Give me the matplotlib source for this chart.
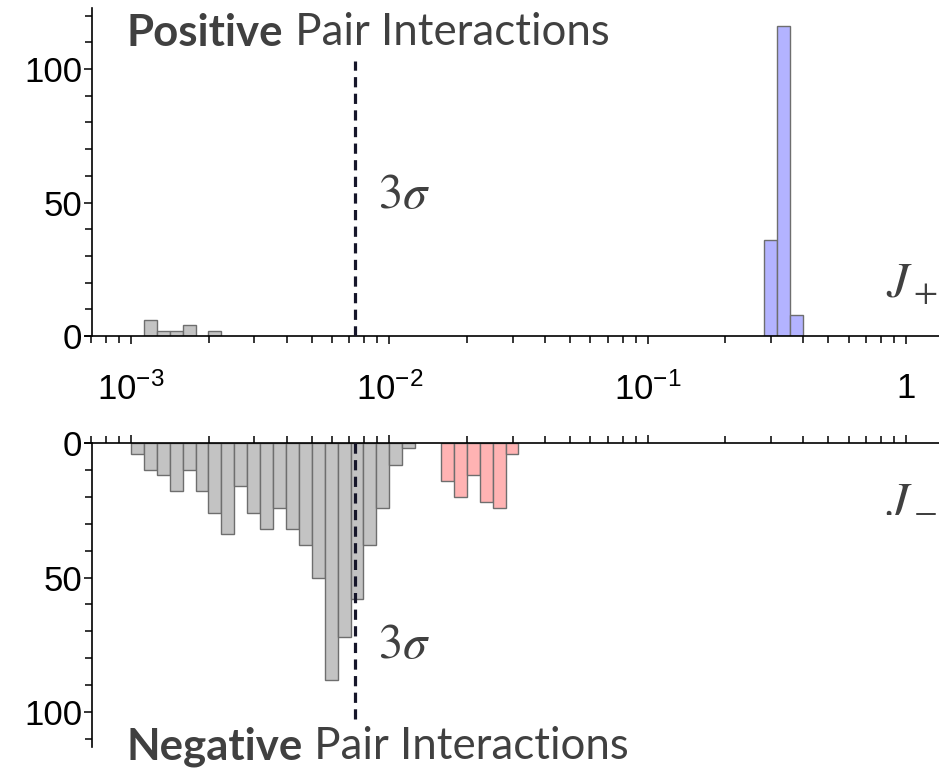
import matplotlib
matplotlib.use("Agg")
import matplotlib.pyplot as plt
import matplotlib.ticker as mticker
import numpy as np

# --- data: histogram bins as log10 of the left edge, 0.05 decade wide ---
BIN_W = 0.05
pos_gray_logx = [-2.95, -2.90, -2.85, -2.80, -2.70]
pos_gray_counts = [6, 2, 2, 4, 2]
pos_blue_logx = [-0.55, -0.50, -0.45]
pos_blue_counts = [36, 116, 8]

neg_gray_logx = [-3.00, -2.95, -2.90, -2.85, -2.80, -2.75, -2.70, -2.65,
                 -2.60, -2.55, -2.50, -2.45, -2.40, -2.35, -2.30, -2.25,
                 -2.20, -2.15, -2.10, -2.05, -2.00, -1.95]
neg_gray_counts = [4, 10, 12, 18, 10, 18, 26, 34, 16, 26, 32, 24, 32, 38,
                   50, 88, 72, 58, 38, 24, 8, 2]
neg_red_logx = [-1.80, -1.75, -1.70, -1.65, -1.60, -1.55]
neg_red_counts = [14, 20, 12, 22, 24, 4]

sigma3_x = 7.36e-3
sigma3_top = 103

xtick_vals = [1e-3, 1e-2, 1e-1, 1]
xtick_labels = [r"$10^{-3}$", r"$10^{-2}$", r"$10^{-1}$", "1"]
ytick_vals = [0, 50, 100]

GRAY = "#c3c3c3"
BLUE = "#b3b3ff"
RED = "#ffb3b3"
EDGE = "#6e6e6e"
TEXT = "#404040"
DASH = "#16162a"

plt.rcParams["font.family"] = ["Liberation Sans", "DejaVu Sans"]
plt.rcParams["mathtext.fontset"] = "custom"
plt.rcParams["mathtext.rm"] = "Liberation Sans"
plt.rcParams["mathtext.it"] = "Liberation Sans:italic"

W, H = 939, 771
fig = plt.figure(figsize=(W / 100, H / 100), dpi=100)

x_lo, x_hi = 10 ** -3.178, 10 ** 0.128
spine_x = 10 ** -3.151

ax_top = fig.add_axes([85 / W, 1 - 336 / H, 854 / W, (336 - 7.6) / H])
ax_bot = fig.add_axes([85 / W, 1 - 747 / H, 854 / W, 304 / H])


def draw_bars(ax, logx, counts, color):
    logx = np.array(logx)
    left = 10 ** logx
    width = 10 ** (logx + BIN_W) - left
    ax.bar(left, counts, width=width, align="edge", color=color,
           edgecolor=EDGE, linewidth=1.0, zorder=2)


draw_bars(ax_top, pos_gray_logx, pos_gray_counts, GRAY)
draw_bars(ax_top, pos_blue_logx, pos_blue_counts, BLUE)
draw_bars(ax_bot, neg_gray_logx, neg_gray_counts, GRAY)
draw_bars(ax_bot, neg_red_logx, neg_red_counts, RED)

for ax in (ax_top, ax_bot):
    ax.plot([sigma3_x, sigma3_x], [0, sigma3_top], color=DASH, lw=2.3,
            linestyle=(0, (3.2, 2.0)), zorder=3)
    ax.set_xscale("log")
    ax.set_xlim(x_lo, x_hi)
    ax.set_facecolor("none")
    ax.spines["right"].set_visible(False)
    ax.spines["left"].set_position(("data", spine_x))
    for s in ax.spines.values():
        s.set_linewidth(1.2)
    ax.xaxis.set_major_locator(mticker.FixedLocator(xtick_vals))
    ax.xaxis.set_minor_locator(mticker.LogLocator(base=10, subs=np.arange(2, 10)))
    ax.xaxis.set_minor_formatter(mticker.NullFormatter())
    ax.yaxis.set_major_locator(mticker.FixedLocator(ytick_vals))
    ax.yaxis.set_minor_locator(mticker.MultipleLocator(10))
    ax.tick_params(axis="both", which="both", direction="out", width=1.1,
                   labelsize=25, colors="black")
    ax.tick_params(axis="both", which="major", length=6)
    ax.tick_params(axis="both", which="minor", length=5)
    ax.tick_params(axis="y", pad=1)

ax_top.spines["top"].set_visible(False)
ax_top.set_ylim(0, 123)
ax_top.set_xticklabels(xtick_labels)
ax_top.tick_params(axis="x", pad=20)

ax_bot.spines["bottom"].set_visible(False)
ax_bot.set_ylim(113, 0)
ax_bot.xaxis.tick_top()
ax_bot.tick_params(axis="x", which="both", labeltop=False, labelbottom=False)

# --- annotations --------------------------------------------------------
title_kw = dict(fontsize=31.5, color=TEXT, family="Lato", va="bottom")
t1 = fig.text(127 / W, 1 - 53 / H, "Positive", fontweight="bold", **title_kw)
ax_top.annotate(" Pair Interactions", xy=(1, 0), xycoords=t1, **title_kw)
t2 = fig.text(127 / W, 1 - 767 / H, "Negative", fontweight="bold", **title_kw)
ax_bot.annotate(" Pair Interactions", xy=(1, 0), xycoords=t2, **title_kw)

sym_kw = dict(color=TEXT, math_fontfamily="stix", ha="left", va="baseline")
fig.text(378 / W, 1 - 208 / H, r"$3\sigma$", fontsize=35, **sym_kw)
fig.text(378 / W, 1 - 658 / H, r"$3\sigma$", fontsize=35, **sym_kw)
fig.text(886 / W, 1 - 297 / H, r"$J_+$", fontsize=36, **sym_kw)
fig.text(886 / W, 1 - 511 / H, r"$J_-$", fontsize=36, **sym_kw)

fig.savefig("out.png", dpi=100)
